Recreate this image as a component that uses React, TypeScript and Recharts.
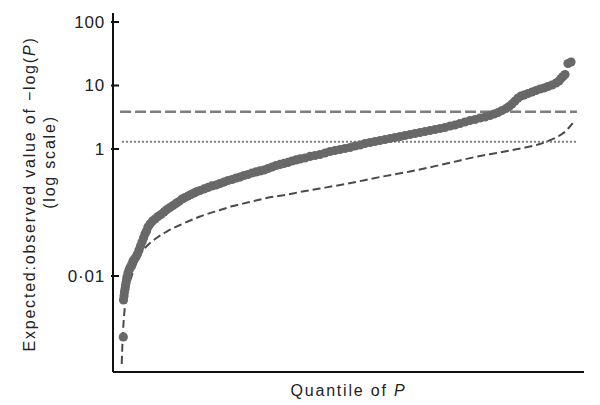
import React from 'react';
import {
    ComposedChart,
    XAxis,
    YAxis,
    Scatter,
    Line,
    ReferenceLine,
} from 'recharts';

// observed points: [quantile, expected:observed value]
const observed: [number, number][] = [
    [0.0219, 0.0011], [0.0223, 0.00419], [0.0234, 0.00484], [0.0244, 0.0056],
    [0.0255, 0.00624], [0.0265, 0.00696], [0.0276, 0.00776], [0.0287, 0.00865],
    [0.0297, 0.00964], [0.0318, 0.0112], [0.034, 0.0124], [0.0361, 0.0134],
    [0.0382, 0.0144], [0.0403, 0.0155], [0.0425, 0.0172], [0.0456, 0.0185],
    [0.0488, 0.0199], [0.052, 0.0222], [0.0552, 0.0257], [0.0584, 0.0297],
    [0.0616, 0.0343], [0.0648, 0.0397], [0.0679, 0.0459], [0.0711, 0.0511],
    [0.0743, 0.0591], [0.0786, 0.0659], [0.0839, 0.0735], [0.0892, 0.079],
    [0.0955, 0.0866], [0.1019, 0.0931], [0.1083, 0.102], [0.1146, 0.1115],
    [0.121, 0.12], [0.1274, 0.129], [0.1338, 0.139], [0.1401, 0.149],
    [0.1465, 0.163], [0.1529, 0.172], [0.1592, 0.182], [0.1656, 0.192],
    [0.172, 0.203], [0.1783, 0.214], [0.1847, 0.222], [0.1932, 0.235],
    [0.2017, 0.248], [0.2102, 0.262], [0.2187, 0.271], [0.2272, 0.286],
    [0.2357, 0.302], [0.2442, 0.319], [0.2527, 0.331], [0.2611, 0.349],
    [0.2696, 0.362], [0.2781, 0.383], [0.2866, 0.397], [0.2951, 0.419],
    [0.3036, 0.435], [0.3121, 0.451], [0.3206, 0.467], [0.3291, 0.493],
    [0.3376, 0.521], [0.3461, 0.55], [0.3546, 0.571], [0.3631, 0.592],
    [0.3715, 0.614], [0.38, 0.648], [0.3885, 0.672], [0.397, 0.697],
    [0.4076, 0.722], [0.4183, 0.763], [0.4289, 0.791], [0.4395, 0.82],
    [0.4501, 0.866], [0.4607, 0.914], [0.4713, 0.947], [0.482, 0.982],
    [0.4926, 1.018], [0.5032, 1.056], [0.5138, 1.115], [0.5244, 1.156],
    [0.535, 1.221], [0.5456, 1.266], [0.5563, 1.313], [0.5669, 1.361],
    [0.5775, 1.411], [0.5881, 1.464], [0.5987, 1.518], [0.6093, 1.574],
    [0.62, 1.632], [0.6306, 1.692], [0.6412, 1.754], [0.6518, 1.819],
    [0.6624, 1.886], [0.673, 1.956], [0.6837, 2.028], [0.6943, 2.103],
    [0.7049, 2.181], [0.7155, 2.302], [0.7261, 2.388], [0.7367, 2.521],
    [0.7473, 2.662], [0.758, 2.811], [0.7686, 2.915], [0.7792, 3.077],
    [0.7898, 3.191], [0.8004, 3.37], [0.8089, 3.558], [0.8174, 3.757],
    [0.8259, 4.04], [0.8344, 4.343], [0.8408, 4.67], [0.8471, 5.113],
    [0.8535, 5.701], [0.8599, 6.356], [0.8662, 6.833], [0.8726, 7.086],
    [0.8811, 7.482], [0.8896, 7.9], [0.8981, 8.342], [0.9066, 8.808],
    [0.9151, 9.134], [0.9236, 9.646], [0.9321, 10.18], [0.9406, 10.95],
    [0.9469, 11.77], [0.9512, 12.89], [0.9554, 13.86], [0.9597, 14.9],
    [0.966, 22.2], [0.9724, 23.45],
];

// expected curve (short dashes)
const expected: [number, number][] = [
    [0.0185, 0.000411], [0.0197, 0.000735], [0.0212, 0.00131], [0.0234, 0.00234],
    [0.0255, 0.00337], [0.0287, 0.00484], [0.0318, 0.00647], [0.0361, 0.00834],
    [0.0425, 0.0116], [0.0503, 0.0166], [0.0573, 0.0214], [0.0679, 0.0276],
    [0.0786, 0.0331], [0.0955, 0.0411], [0.114, 0.0502], [0.1423, 0.0636],
    [0.1847, 0.0865], [0.2272, 0.1094], [0.2548, 0.1265], [0.2909, 0.1463],
    [0.3263, 0.1692], [0.3652, 0.1887], [0.397, 0.2104], [0.4395, 0.2388],
    [0.4989, 0.2862], [0.5669, 0.3624], [0.6306, 0.4421], [0.7085, 0.5911],
    [0.7792, 0.7757], [0.8146, 0.865], [0.8535, 0.982], [0.8854, 1.095],
    [0.9066, 1.199], [0.9208, 1.313], [0.9384, 1.49], [0.9533, 1.723],
    [0.9618, 1.92], [0.9682, 2.181], [0.9761, 2.566],
];

const longDashLevel = 3.87;
const dottedLevel = 1.3;
const levelSpan = [0.015, 0.985];

const yTicks = [0.01, 1, 10, 100];
const yTickLabels: Record<number, string> = { 0.01: '0·01', 1: '1', 10: '10', 100: '100' };

const FONT = '"Liberation Sans", Arial, Helvetica, sans-serif';
const TEXT = '#222';

const observedData = observed.map(([q, v]) => ({ q, v }));
const expectedData = expected.map(([q, v]) => ({ q, v }));

const YTick = ({ x, y, payload }: { x: number; y: number; payload: { value: number } }) => (
    <g>
        <line x1={x + 6} x2={x + 14} y1={y} y2={y} stroke="#111" strokeWidth={2} />
        <text x={x} y={y} dy="0.35em" textAnchor="end" fontSize={17} fill={TEXT} fontFamily={FONT} letterSpacing={0.8}>
            {yTickLabels[payload.value] ?? payload.value}
        </text>
    </g>
);

const YLabel = () => (
    <g fontFamily={FONT} fontSize={16} fill={TEXT} letterSpacing={1.8}>
        <text x={29} y={194} transform="rotate(-90 29 194)" textAnchor="middle" dominantBaseline="central">
            Expected:observed value of −log(<tspan fontStyle="italic">P</tspan>)
        </text>
        <text x={49} y={162} transform="rotate(-90 49 162)" textAnchor="middle" dominantBaseline="central">
            (log scale)
        </text>
    </g>
);

const XLabel = (props: { viewBox?: { x: number; y: number; width: number; height: number } }) => {
    const vb = props.viewBox ?? { x: 0, y: 0, width: 0, height: 0 };
    return (
        <text
            x={vb.x + vb.width / 2}
            y={vb.y + 24}
            textAnchor="middle"
            fontFamily={FONT}
            fontSize={16}
            fill={TEXT}
            letterSpacing={1.8}
        >
            Quantile of <tspan fontStyle="italic">P</tspan>
        </text>
    );
};

const Dot = (p: { cx?: number; cy?: number }) => (
    <circle cx={p.cx} cy={p.cy} r={4.6} fill="#686868" />
);

export default function App() {
    return (
        <div style={{ position: 'absolute', left: 0, top: 0, width: 600, height: 405, background: '#fff' }}>
            <ComposedChart width={600} height={405} margin={{ top: 13, right: 16, bottom: 0, left: 0 }}>
                <XAxis
                    type="number"
                    dataKey="q"
                    domain={[0, 1]}
                    height={33}
                    tick={false}
                    tickLine={false}
                    axisLine={{ stroke: '#111', strokeWidth: 2 }}
                    label={<XLabel />}
                />
                <YAxis
                    type="number"
                    dataKey="v"
                    scale="log"
                    domain={[0.000308, 138.6]}
                    allowDataOverflow
                    ticks={yTicks}
                    interval={0}
                    width={113}
                    tickSize={0}
                    tickMargin={8}
                    tickLine={false}
                    tick={YTick}
                    axisLine={{ stroke: '#111', strokeWidth: 2 }}
                    label={<YLabel />}
                />
                <ReferenceLine
                    segment={[{ x: levelSpan[0], y: longDashLevel }, { x: levelSpan[1], y: longDashLevel }]}
                    stroke="#7d7d7d"
                    strokeWidth={2.5}
                    strokeDasharray="11 4"
                />
                <ReferenceLine
                    segment={[{ x: levelSpan[0] + 0.004, y: dottedLevel }, { x: levelSpan[1] - 0.002, y: dottedLevel }]}
                    stroke="#7d7d7d"
                    strokeWidth={2}
                    strokeDasharray="2 2"
                />
                <Line
                    data={expectedData}
                    dataKey="v"
                    type="monotone"
                    stroke="#4a4a4a"
                    strokeWidth={2}
                    strokeDasharray="8 4"
                    dot={false}
                    activeDot={false}
                    isAnimationActive={false}
                />
                <Scatter data={observedData} shape={Dot} isAnimationActive={false} />
            </ComposedChart>
        </div>
    );
}
